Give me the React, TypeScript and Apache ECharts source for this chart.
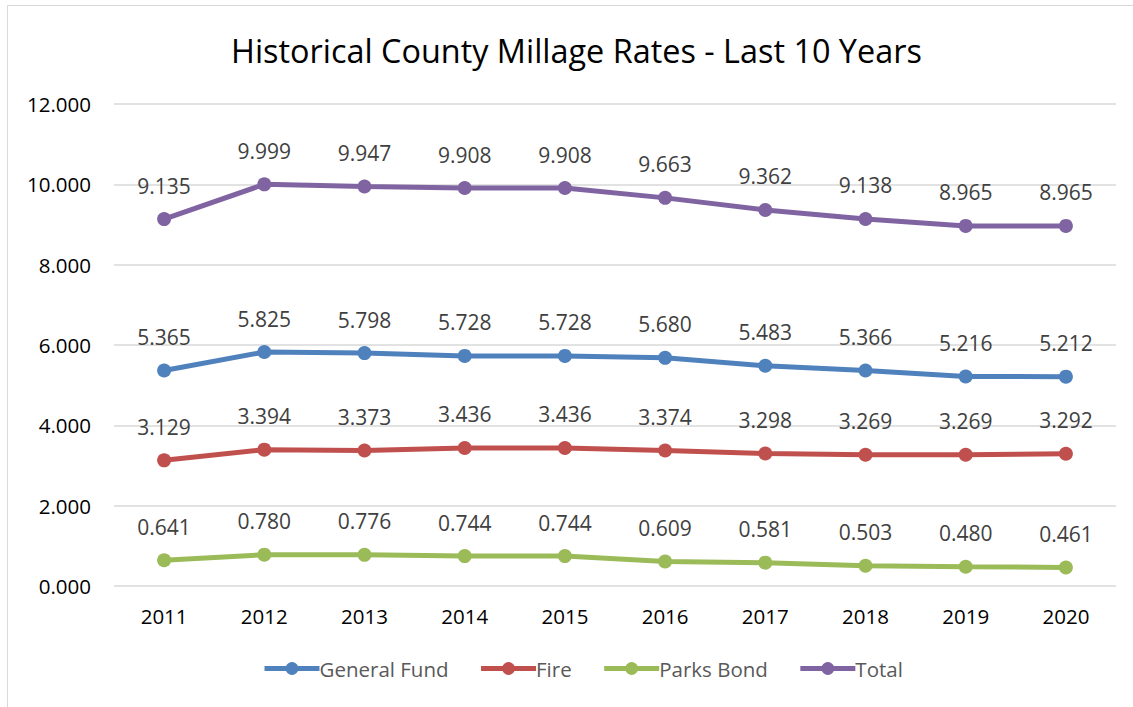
import React, { useEffect, useRef } from "react";
import * as echarts from "echarts";

const years = ["2011", "2012", "2013", "2014", "2015", "2016", "2017", "2018", "2019", "2020"];
const generalFund = [5.365, 5.825, 5.798, 5.728, 5.728, 5.68, 5.483, 5.366, 5.216, 5.212];
const fire = [3.129, 3.394, 3.373, 3.436, 3.436, 3.374, 3.298, 3.269, 3.269, 3.292];
const parksBond = [0.641, 0.78, 0.776, 0.744, 0.744, 0.609, 0.581, 0.503, 0.48, 0.461];
const total = [9.135, 9.999, 9.947, 9.908, 9.908, 9.663, 9.362, 9.138, 8.965, 8.965];

const seriesNames = ["General Fund", "Fire", "Parks Bond", "Total"];
const seriesColors = ["#4F81BD", "#C0504D", "#9BBB59", "#8064A2"];
const seriesData = [generalFund, fire, parksBond, total];

const FONT = "'Open Sans', 'Noto Sans', sans-serif";

export default function App() {
  const ref = useRef<HTMLDivElement>(null);
  useEffect(() => {
    document.body.style.margin = "0";
    if (!ref.current) return;
    const chart = echarts.init(ref.current, undefined, { renderer: "svg" });
    chart.setOption({
      animation: false,
      backgroundColor: "#ffffff",
      textStyle: { fontFamily: FONT },
      title: {
        text: "Historical County Millage Rates - Last 10 Years",
        left: 226,
        top: 29,
        textStyle: { fontFamily: FONT, fontSize: 32.4, fontWeight: "normal", color: "#000000" },
      },
      graphic: [
        { type: "line", shape: { x1: 7.5, y1: 5.5, x2: 1133, y2: 5.5 }, style: { stroke: "#d9d9d9", lineWidth: 1 } },
        { type: "line", shape: { x1: 7.5, y1: 5.5, x2: 7.5, y2: 707 }, style: { stroke: "#d9d9d9", lineWidth: 1 } },
      ],
      legend: {
        bottom: 23,
        left: 257,
        itemWidth: 55,
        itemHeight: 16,
        itemGap: 30,
        data: seriesNames,
        lineStyle: { width: 5 },
        textStyle: { fontFamily: FONT, fontSize: 20.5, color: "#595959", padding: [0, 0, 0, -5] },
      },
      grid: { left: 114, right: 17, top: 104, bottom: 121, containLabel: false },
      xAxis: {
        type: "category",
        data: years,
        boundaryGap: true,
        axisLine: { show: false },
        axisTick: { show: false },
        axisLabel: { fontFamily: FONT, fontSize: 20.5, color: "#000000", margin: 19 },
      },
      yAxis: {
        type: "value",
        min: 0,
        max: 12,
        interval: 2,
        axisLine: { show: false },
        axisTick: { show: false },
        splitLine: { lineStyle: { color: "#d9d9d9", width: 1.5 } },
        axisLabel: {
          fontFamily: FONT,
          fontSize: 20.5,
          color: "#000000",
          margin: 23,
          formatter: (v: number) => v.toFixed(3),
        },
      },
      series: seriesData.map((d, i) => ({
        name: seriesNames[i],
        type: "line",
        data: d,
        symbol: "circle",
        symbolSize: 14,
        color: seriesColors[i],
        lineStyle: { width: 5, color: seriesColors[i] },
        itemStyle: { color: seriesColors[i] },
        label: {
          show: true,
          position: "top",
          distance: 16,
          fontFamily: FONT,
          fontSize: 21,
          color: "#404040",
          formatter: (p: any) => Number(p.value).toFixed(3),
        },
      })),
    });
    return () => chart.dispose();
  }, []);
  return <div ref={ref} style={{ width: 1133, height: 707 }} />;
}
